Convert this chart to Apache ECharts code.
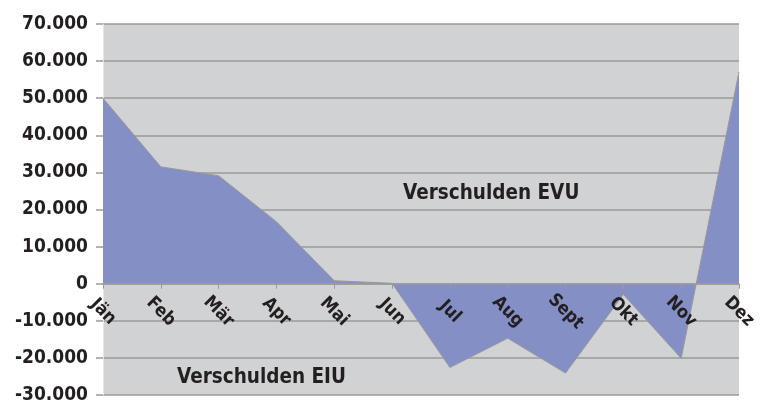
<!DOCTYPE html>
<html>
<head>
<meta charset="utf-8">
<script src="https://cdn.jsdelivr.net/npm/echarts@6/dist/echarts.min.js"></script>
<style>html,body{margin:0;padding:0;background:#fff;}#c{width:765px;height:403px;}</style>
</head>
<body>
<div id="c"></div>
<script>
var categories = ['Jän','Feb','Mär','Apr','Mai','Jun','Jul','Aug','Sept','Okt','Nov','Dez'];
var values = [50000, 31500, 29100, 16700, 800, 100, -22600, -14700, -24100, -2900, -20100, 57100];
var yTicks = { min: -30000, max: 70000, interval: 10000 };
var annotations = ['Verschulden EVU', 'Verschulden EIU'];

var FONT = '"DejaVu Sans Condensed", "DejaVu Sans", sans-serif';
var TXT = '#231f20';
var GRID = { left: 103, right: 26, top: 24, bottom: 8 };
var H = 403;
// pixel distance of the zero line above the grid bottom
var zeroOffset = (H - GRID.top - GRID.bottom) * (0 - yTicks.min) / (yTicks.max - yTicks.min);
function fmt(v){
  var s = Math.abs(v).toString().replace(/\B(?=(\d{3})+(?!\d))/g, '.');
  return (v < 0 ? '-' : '') + s;
}
var chart = echarts.init(document.getElementById('c'));
chart.setOption({
  animation: false,
  grid: { left: GRID.left, right: GRID.right, top: GRID.top, bottom: GRID.bottom, show: true, backgroundColor: '#d1d2d4', borderWidth: 0, containLabel: false, outerBoundsMode: 'none' },
  xAxis: {
    type: 'category', data: categories, boundaryGap: false, z: 10,
    offset: -zeroOffset,
    axisLine: { onZero: false, lineStyle: { color: '#9a9a9a', width: 1.5 } },
    axisTick: { show: true, length: 5, alignWithLabel: true, lineStyle: { color: '#9a9a9a' } },
    axisLabel: { rotate: -45, align: 'center', verticalAlign: 'middle', margin: 28, color: TXT, fontFamily: FONT, fontWeight: 'bold', fontSize: 18, interval: 0 },
    splitLine: { show: false }
  },
  yAxis: {
    type: 'value', min: yTicks.min, max: yTicks.max, interval: yTicks.interval,
    axisLine: { show: true, lineStyle: { color: '#e6e6e6', width: 1 } },
    axisTick: { show: true, length: 7, lineStyle: { color: '#9a9a9a', width: 1.5 } },
    axisLabel: { margin: 15, color: TXT, fontFamily: FONT, fontWeight: 'bold', fontSize: 19, formatter: fmt },
    splitLine: { show: true, lineStyle: { color: '#9a9a9a', width: 1.5 } }
  },
  series: [{
    type: 'line', data: values, symbol: 'none', z: 2,
    lineStyle: { color: '#9a9a9a', width: 1 },
    areaStyle: { color: '#8490c5', opacity: 1, origin: 0 }
  }],
  graphic: [
    { type: 'text', left: 403, top: 183, z: 20, style: { text: annotations[0], fill: TXT, font: 'bold 20.5px ' + FONT } },
    { type: 'text', left: 177, top: 367, z: 20, style: { text: annotations[1], fill: TXT, font: 'bold 20.5px ' + FONT } }
  ]
});
</script>
</body>
</html>
